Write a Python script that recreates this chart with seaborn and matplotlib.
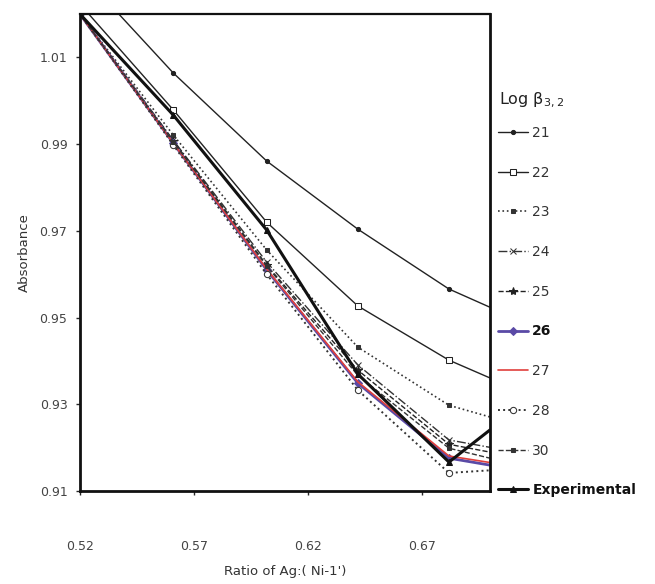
import pandas as pd
import seaborn as sns
import matplotlib.pyplot as plt

# ratio values (last one sits on the right edge of the axis)
ratio = [0.52, 0.561, 0.602, 0.642, 0.682, 0.70]

b21 = [1.0297, 1.0064, 0.9861, 0.9704, 0.9566, 0.9524]
b22 = [1.0223, 0.9979, 0.9720, 0.9527, 0.9402, 0.9361]
b23 = [1.0200, 0.9921, 0.9656, 0.9432, 0.9298, 0.9271]
b24 = [1.0200, 0.9909, 0.9628, 0.9391, 0.9218, 0.9201]
b25 = [1.0200, 0.9907, 0.9621, 0.9379, 0.9208, 0.9190]
b26 = [1.0200, 0.9902, 0.9610, 0.9349, 0.9176, 0.9160]
b27 = [1.0200, 0.9902, 0.9612, 0.9352, 0.9181, 0.9166]
b28 = [1.0200, 0.9898, 0.9600, 0.9333, 0.9142, 0.9148]
b30 = [1.0200, 0.9905, 0.9619, 0.9367, 0.9199, 0.9176]
expt = [1.0200, 0.9967, 0.9702, 0.9370, 0.9167, 0.9241]

series = {"21": b21, "22": b22, "23": b23, "24": b24, "25": b25,
          "26": b26, "27": b27, "28": b28, "30": b30, "Experimental": expt}

styles = {
    "21": dict(color="#222222", linestyle="-", lw=1.0, marker="o", ms=3, mfc="#222222"),
    "22": dict(color="#222222", linestyle="-", lw=1.0, marker="s", ms=5, mfc="white"),
    "23": dict(color="#333333", linestyle=":", lw=1.2, marker="s", ms=3.5, mfc="#333333"),
    "24": dict(color="#333333", linestyle="-.", lw=1.0, marker="x", ms=5, mfc="none"),
    "25": dict(color="#222222", linestyle="--", lw=1.0, marker="*", ms=6, mfc="#222222"),
    "26": dict(color="#5a4aa6", linestyle="-", lw=2.0, marker="D", ms=4, mfc="#5a4aa6"),
    "27": dict(color="#e0403c", linestyle="-", lw=1.2, marker=None, ms=0, mfc="none"),
    "28": dict(color="#333333", linestyle=":", lw=1.4, marker="o", ms=4.5, mfc="white"),
    "30": dict(color="#333333", linestyle="--", lw=1.0, marker="s", ms=3, mfc="#333333"),
    "Experimental": dict(color="#111111", linestyle="-", lw=2.2, marker="^", ms=5, mfc="#111111"),
}

sns.set_theme(style="white")
plt.rcParams["font.family"] = ["DejaVu Sans"]

fig = plt.figure(figsize=(6.55, 5.84), dpi=100)
ax = fig.add_axes([0.122, 0.159, 0.626, 0.817])

for name, vals in series.items():
    st = styles[name]
    df = pd.DataFrame({"ratio": ratio, "abs": vals})
    kw = dict(color=st["color"], linestyle=st["linestyle"], linewidth=st["lw"], label=name)
    if st["marker"]:
        kw.update(marker=st["marker"], markersize=st["ms"], markerfacecolor=st["mfc"],
                  markeredgecolor=st["color"], markevery=slice(0, 5))
    sns.lineplot(data=df, x="ratio", y="abs", ax=ax, **kw)

ax.set_xlim(0.52, 0.70)
ax.set_ylim(0.91, 1.02)
ax.set_xticks([0.52, 0.57, 0.62, 0.67])
ax.set_xticklabels(["0.52", "0.57", "0.62", "0.67"])
ax.set_yticks([0.91, 0.93, 0.95, 0.97, 0.99, 1.01])
ax.set_yticklabels(["0.91", "0.93", "0.95", "0.97", "0.99", "1.01"])
ax.tick_params(axis="both", direction="out", length=3, width=1, labelsize=9,
               labelcolor="#444444", bottom=True, left=True)
ax.tick_params(axis="x", pad=32)
ax.tick_params(axis="y", pad=6)
ax.set_xlabel("Ratio of Ag:( Ni-1')", fontsize=9.5, color="#333333", labelpad=9)
ax.set_ylabel("Absorbance", fontsize=9.5, color="#333333", labelpad=6)
for side, w in {"left": 2.0, "bottom": 2.0, "right": 2.0, "top": 1.6}.items():
    ax.spines[side].set_visible(True)
    ax.spines[side].set_color("#111111")
    ax.spines[side].set_linewidth(w)

fig.text(0.762, 1 - 100 / 584, "Log \u03b2$_{3,2}$", fontsize=11.5, color="#222222",
         ha="left", va="center")
leg = ax.legend(loc="upper left", bbox_to_anchor=(1.005, 0.777),
                frameon=False, fontsize=10, handlelength=2.2,
                handletextpad=0.3, labelspacing=1.85, borderaxespad=0)
for t in leg.get_texts():
    t.set_color("#333333")
    if t.get_text() in ("26", "Experimental"):
        t.set_fontweight("bold")
        t.set_color("#111111")

fig.savefig("out.png", dpi=100)
